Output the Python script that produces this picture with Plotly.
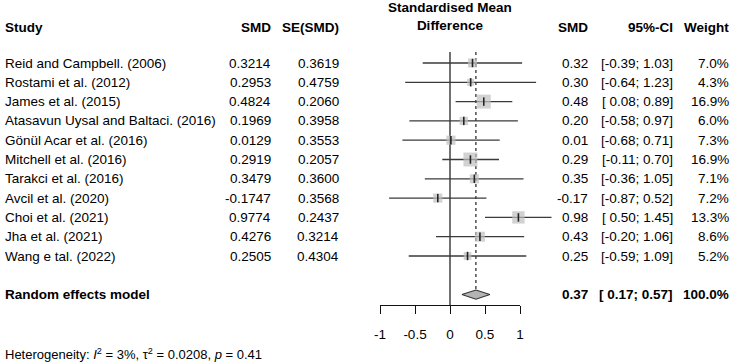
import plotly.graph_objects as go

studies = ["Reid and Campbell. (2006)", "Rostami et al. (2012)", "James et al. (2015)",
           "Atasavun Uysal and Baltaci. (2016)", "Gönül Acar et al. (2016)", "Mitchell et al. (2016)",
           "Tarakci et al. (2016)", "Avcil et al. (2020)", "Choi et al. (2021)", "Jha et al. (2021)",
           "Wang e tal. (2022)"]
smd = [0.3214, 0.2953, 0.4824, 0.1969, 0.0129, 0.2919, 0.3479, -0.1747, 0.9774, 0.4276, 0.2505]
se = [0.3619, 0.4759, 0.2060, 0.3958, 0.3553, 0.2057, 0.3600, 0.3568, 0.2437, 0.3214, 0.4304]
ci_lo = [-0.39, -0.64, 0.08, -0.58, -0.68, -0.11, -0.36, -0.87, 0.50, -0.20, -0.59]
ci_hi = [1.03, 1.23, 0.89, 0.97, 0.71, 0.70, 1.05, 0.52, 1.45, 1.06, 1.09]
weights = [7.0, 4.3, 16.9, 6.0, 7.3, 16.9, 7.1, 7.2, 13.3, 8.6, 5.2]
pooled_est, pooled_lo, pooled_hi, pooled_w = 0.37, 0.17, 0.57, 100.0
tick_vals = [-1, -0.5, 0, 0.5, 1]
tick_text = ["-1", "-0.5", "0", "0.5", "1"]
heterogeneity = "Heterogeneity: <i>I</i><sup>2</sup> = 3%, τ<sup>2</sup> = 0.0208, <i>p</i> = 0.41"

W, H = 733, 364
PX_PER_UNIT, ZERO_PX = 70.0, 450.0
ROW_H, ROW1_PX = 19.3, 63.0
AXIS_PX = 305.0
FONT = "Liberation Sans, Arial, sans-serif"
FS = 13.5
LINE_C = "#3a3a3a"
BOX_C = "#bfbfbf"


def px2row(py):
    return 1 + (py - ROW1_PX) / ROW_H


rows = list(range(1, len(studies) + 1))
pooled_row = len(studies) + 2

fig = go.Figure()

# reference line at 0 and dotted pooled line
fig.add_trace(go.Scatter(x=[0, 0], y=[px2row(52), px2row(AXIS_PX)], mode="lines",
                         line=dict(color="#111", width=1.2), hoverinfo="skip", showlegend=False))
fig.add_trace(go.Scatter(x=[pooled_est, pooled_est], y=[px2row(52), pooled_row - 0.25], mode="lines",
                         line=dict(color="#222", width=1.2, dash="dot"), hoverinfo="skip", showlegend=False))

# CI lines
xs, ys = [], []
for r, lo, hi in zip(rows, ci_lo, ci_hi):
    xs += [lo, hi, None]
    ys += [r, r, None]
fig.add_trace(go.Scatter(x=xs, y=ys, mode="lines", line=dict(color=LINE_C, width=1.3),
                         hoverinfo="skip", showlegend=False))

# weight boxes
fig.add_trace(go.Scatter(x=smd, y=rows, mode="markers",
                         marker=dict(symbol="square", color=BOX_C, size=[3.4 * w ** 0.5 for w in weights],
                                     line=dict(width=0)),
                         hoverinfo="skip", showlegend=False))
# point ticks
fig.add_trace(go.Scatter(x=smd, y=rows, mode="markers",
                         marker=dict(symbol="line-ns", size=6, line=dict(color="#222", width=1.6)),
                         hoverinfo="skip", showlegend=False))

# diamond
dh = 0.24
fig.add_trace(go.Scatter(x=[pooled_lo, pooled_est, pooled_hi, pooled_est, pooled_lo],
                         y=[pooled_row, pooled_row - dh, pooled_row, pooled_row + dh, pooled_row],
                         mode="lines", fill="toself", fillcolor="#b4b4b4",
                         line=dict(color="#333", width=1.1), hoverinfo="skip", showlegend=False))

# invisible trace for bottom axis
fig.add_trace(go.Scatter(x=tick_vals, y=[0] * len(tick_vals), xaxis="x2", yaxis="y2", mode="markers",
                         marker=dict(opacity=0), hoverinfo="skip", showlegend=False))

ann = []


def txt(x_px, y, text, anchor="left", bold=False, size=FS, yref="y"):
    ann.append(dict(x=x_px / W, xref="paper", y=y, yref=yref, text=("<b>%s</b>" % text) if bold else text,
                    xanchor=anchor, yanchor="middle", showarrow=False,
                    font=dict(family=FONT, size=size, color="#000")))


hdr = px2row(27)
txt(3, hdr, "Study", "left", True)
txt(273, hdr, "SMD", "right", True)
txt(341, hdr, "SE(SMD)", "right", True)
txt(590, hdr, "SMD", "right", True)
txt(675, hdr, "95%-CI", "right", True)
txt(731, hdr, "Weight", "right", True)
ann.append(dict(x=ZERO_PX / W, xref="paper", y=px2row(16.5), yref="y",
                text="<b>Standardised Mean<br>Difference</b>", xanchor="center", yanchor="middle",
                showarrow=False, font=dict(family=FONT, size=FS, color="#000")))


def fmt_ci(lo, hi):
    a = ("%.2f" % lo) if lo < 0 else (" %.2f" % lo)
    return "[%s; %.2f]" % (a, hi)


for r, s, m, e, lo, hi, w in zip(rows, studies, smd, se, ci_lo, ci_hi, weights):
    txt(3, r, s, "left")
    txt(273, r, "%.4f" % m, "right")
    txt(341, r, "%.4f" % e, "right")
    txt(590, r, "%.2f" % m, "right")
    txt(675, r, fmt_ci(lo, hi), "right")
    txt(731, r, "%.1f%%" % w, "right")

txt(3, pooled_row, "Random effects model", "left", True)
txt(590, pooled_row, "%.2f" % pooled_est, "right", True)
txt(675, pooled_row, fmt_ci(pooled_lo, pooled_hi), "right", True)
txt(731, pooled_row, "%.1f%%" % pooled_w, "right", True)
txt(3, px2row(354), heterogeneity, "left", False, 13)

fig.update_layout(
    width=W, height=H, margin=dict(l=0, r=0, t=0, b=0, autoexpand=False),
    paper_bgcolor="white", plot_bgcolor="rgba(0,0,0,0)",
    font=dict(family=FONT, size=FS, color="#000"),
    xaxis=dict(domain=[0, 1], range=[-ZERO_PX / PX_PER_UNIT, (W - ZERO_PX) / PX_PER_UNIT], visible=False),
    yaxis=dict(domain=[0, 1], range=[px2row(H), px2row(0)], visible=False),
    xaxis2=dict(domain=[(ZERO_PX - PX_PER_UNIT) / W, (ZERO_PX + PX_PER_UNIT) / W], range=[-1, 1],
                anchor="y2", showline=True, linecolor="#111", linewidth=1.2, ticks="outside",
                ticklen=8, tickwidth=1.2, tickcolor="#111", tickvals=tick_vals, ticktext=tick_text,
                ticklabelstandoff=9,
                tickfont=dict(family=FONT, size=FS, color="#000"), showgrid=False, zeroline=False),
    yaxis2=dict(domain=[1 - AXIS_PX / H, 1 - (AXIS_PX - 2) / H], anchor="x2", visible=False, range=[0, 1]),
    annotations=ann,
)

fig.write_html("out.html", config={"displayModeBar": False},
               post_script="document.body.style.margin='0';")
